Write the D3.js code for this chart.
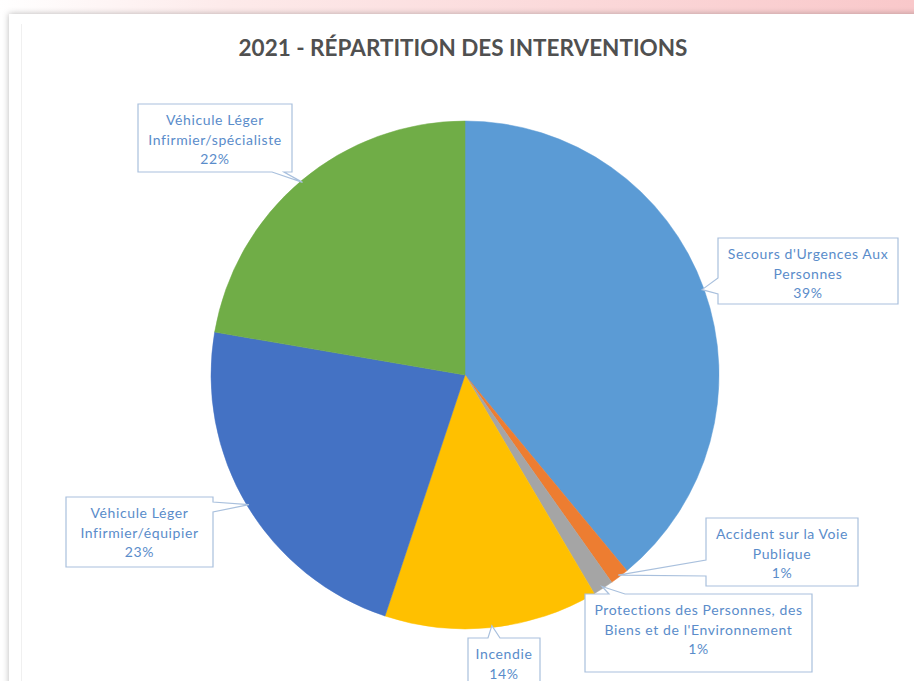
<!DOCTYPE html>
<html>
<head>
<meta charset="utf-8">
<script src="https://cdn.jsdelivr.net/npm/d3@7"></script>
<style>
  body { margin: 0; background: #fff; }
  svg { display: block; }
</style>
</head>
<body>
<script>
// data (share of interventions, in %)
const categories = [
  "Secours d'Urgences Aux Personnes",
  "Accident sur la Voie Publique",
  "Protections des Personnes, des Biens et de l'Environnement",
  "Incendie",
  "Véhicule Léger Infirmier/équipier",
  "Véhicule Léger Infirmier/spécialiste"
];
const values = [39.0, 1.2, 1.3, 13.6, 22.6, 22.3];
const percentLabels = ["39%", "1%", "1%", "14%", "23%", "22%"];
const labelLines = [
  ["Secours d'Urgences Aux", "Personnes"],
  ["Accident sur la Voie", "Publique"],
  ["Protections des Personnes, des", "Biens et de l'Environnement"],
  ["Incendie"],
  ["Véhicule Léger", "Infirmier/équipier"],
  ["Véhicule Léger", "Infirmier/spécialiste"]
];
const colors = ["#5b9bd5", "#ed7d31", "#a5a5a5", "#ffc000", "#4472c4", "#70ad47"];

// callout box layout
const calloutLayout = [
  { x: 718, y: 238, w: 180, h: 66, side: 'left', at: 48, hw: 8 },
  { x: 706, y: 518, w: 152, h: 68, side: 'left', at: 50, hw: 8 },
  { x: 585, y: 594, w: 227, h: 78, side: 'top', at: 32, hw: 8 },
  { x: 468, y: 638, w: 72, h: 56, side: 'top', at: 26, hw: 6 },
  { x: 66, y: 497, w: 147, h: 70, side: 'right', at: 10, hw: 5 },
  { x: 138, y: 104, w: 154, h: 68, side: 'bottom', at: 140, hw: 6 }
];

const width = 914;
const height = 681;
const cx = 465, cy = 375, radius = 254;

const svg = d3.select('body').append('svg')
  .attr('width', width)
  .attr('height', height);

const defs = svg.append('defs');
const grad = defs.append('linearGradient').attr('id', 'topStrip');
grad.append('stop').attr('offset', '0%').attr('stop-color', '#ffffff');
grad.append('stop').attr('offset', '25%').attr('stop-color', '#fdeaea');
grad.append('stop').attr('offset', '100%').attr('stop-color', '#f9c8ca');

const shadow = defs.append('filter').attr('id', 'cardShadow')
  .attr('x', '-5%').attr('y', '-5%').attr('width', '110%').attr('height', '110%');
shadow.append('feDropShadow')
  .attr('dx', 0).attr('dy', 0).attr('stdDeviation', 3)
  .attr('flood-color', '#000').attr('flood-opacity', 0.28);

svg.append('rect')
  .attr('width', width).attr('height', 18)
  .attr('fill', 'url(#topStrip)');

svg.append('rect')
  .attr('x', 9).attr('y', 14)
  .attr('width', width + 20).attr('height', height + 20)
  .attr('fill', '#fff')
  .attr('filter', 'url(#cardShadow)');

svg.append('line')
  .attr('x1', 21.5).attr('x2', 21.5).attr('y1', 24).attr('y2', height)
  .attr('stroke', '#f0f0f0');

svg.append('text')
  .attr('x', 463).attr('y', 56)
  .attr('text-anchor', 'middle')
  .attr('font-family', 'Lato, "Open Sans", sans-serif')
  .attr('font-weight', 700)
  .attr('font-size', 22.5)
  .attr('fill', '#505050')
  .text('2021 - RÉPARTITION DES INTERVENTIONS');

const pie = d3.pie().sort(null).value(d => d.value);
const data = categories.map((c, i) => ({
  name: c, value: values[i], color: colors[i],
  pct: percentLabels[i], lines: labelLines[i], box: calloutLayout[i]
}));
const arcs = pie(data);

const arc = d3.arc().innerRadius(0).outerRadius(radius);
const edgeArc = d3.arc().innerRadius(radius - 2).outerRadius(radius - 2);

const chart = svg.append('g').attr('transform', `translate(${cx},${cy})`);

chart.selectAll('path.slice').data(arcs)
  .enter().append('path')
  .attr('class', 'slice')
  .attr('d', arc)
  .attr('fill', d => d.data.color)
  .attr('stroke', d => d.data.color)
  .attr('stroke-width', 0.5);

// callout outline with a pointer to the slice edge
const calloutPath = (b, ax, ay) => {
  const x0 = b.x, y0 = b.y, x1 = b.x + b.w, y1 = b.y + b.h;
  const p = [];
  if (b.side === 'top') {
    const m = x0 + b.at;
    p.push([x0, y0], [m - b.hw, y0], [ax, ay], [m + b.hw, y0], [x1, y0], [x1, y1], [x0, y1]);
  } else if (b.side === 'bottom') {
    const m = x0 + b.at;
    p.push([x0, y0], [x1, y0], [x1, y1], [m + b.hw, y1], [ax, ay], [m - b.hw, y1], [x0, y1]);
  } else if (b.side === 'left') {
    const m = y0 + b.at;
    p.push([x0, y0], [x1, y0], [x1, y1], [x0, y1], [x0, m + b.hw], [ax, ay], [x0, m - b.hw]);
  } else {
    const m = y0 + b.at;
    p.push([x0, y0], [x1, y0], [x1, m - b.hw], [ax, ay], [x1, m + b.hw], [x1, y1], [x0, y1]);
  }
  return 'M' + p.map(q => q.join(',')).join('L') + 'Z';
};

const labels = svg.append('g').attr('class', 'callouts');

arcs.forEach(d => {
  const [ex, ey] = edgeArc.centroid(d);
  const b = d.data.box;
  const g = labels.append('g');
  g.append('path')
    .attr('d', calloutPath(b, cx + ex, cy + ey))
    .attr('fill', '#fff')
    .attr('stroke', '#a9c0dd')
    .attr('stroke-width', 1.2)
    .attr('stroke-linejoin', 'miter');
  const lines = d.data.lines.concat([d.data.pct]);
  const tx = b.x + b.w / 2;
  const ty = b.y + 21;
  g.selectAll('text').data(lines)
    .enter().append('text')
    .attr('x', tx)
    .attr('y', (t, i) => ty + i * 19.5)
    .attr('text-anchor', 'middle')
    .attr('font-family', 'Lato, "Open Sans", sans-serif')
    .attr('font-size', 14)
    .attr('letter-spacing', 0.6)
    .attr('fill', '#5a8cca')
    .text(t => t);
});
</script>
</body>
</html>
